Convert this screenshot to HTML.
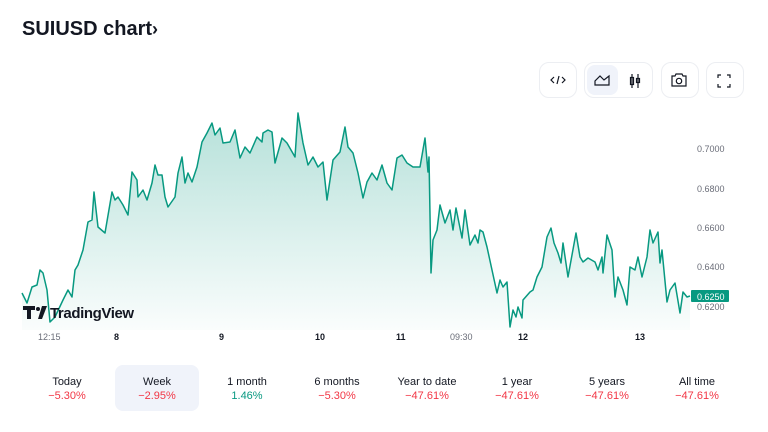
<!DOCTYPE html>
<html><head><meta charset="utf-8"><style>
body{margin:0;width:768px;height:432px;background:#fff;font-family:"Liberation Sans",sans-serif;overflow:hidden;position:relative}
.t{position:absolute;left:22px;top:18px;font-size:20px;font-weight:bold;color:#131722}
.btn{position:absolute;top:62px;height:36px;border:1px solid #eceef2;border-radius:10px;box-sizing:border-box}
.ax{position:absolute;font-size:9px;color:#6a6d78}
.tp{position:absolute;top:332px;font-size:9px;color:#131722}
.per{position:absolute;top:365px;width:84px;height:46px;text-align:center;font-size:11px;color:#131722;border-radius:8px;box-sizing:border-box;padding-top:10px;line-height:14px}
.r{color:#f23645}.g{color:#089981}
</style></head><body>
<div class="t">SUIUSD chart<span style="font-size:18px">›</span></div>
<div class="btn" style="left:539px;width:38px"></div>
<div class="btn" style="left:584px;width:69px"><div style="position:absolute;left:2px;top:2px;width:31px;height:30px;background:#f0f3fa;border-radius:8px"></div></div>
<div class="btn" style="left:661px;width:38px"></div>
<div class="btn" style="left:706px;width:38px"></div>
<svg width="768" height="432" style="position:absolute;left:0;top:0">
<g fill="none" stroke="#131722" stroke-width="1.2">
<path d="M554 77l-3 3 3 3M562 77l3 3-3 3M559 76l-2 8"/>
<path d="M595 85l0-4 5-5 4 4 5-4 0 9z"/>
<path d="M632 74v14M638 74v14"/>
<rect x="630.5" y="77.5" width="3" height="7"/><rect x="636.5" y="78.5" width="3" height="4"/>
<path d="M672 76h3l1-2h6l1 2h3v10h-14z"/><circle cx="679" cy="81" r="2.7"/>
<path d="M718 78v-3h3M727 75h3v3M730 84v3h-3M721 87h-3v-3"/>
</g>
<defs><linearGradient id="gr" x1="0" y1="0" x2="0" y2="1"><stop offset="0" stop-color="#089981" stop-opacity=".3"/><stop offset="1" stop-color="#089981" stop-opacity=".02"/></linearGradient></defs>
<path fill="url(#gr)" stroke="none" d="M22 293L27 303L32 287L37 285L40 270L43 273L47 290L50 322L55 317L63 300L68 290L72 297L75 270L78 265L83 250L88 222L92 220L94 192L98 227L105 233L112 192L115 200L118 197L123 205L128 215L132 172L137 180L138 197L143 190L147 200L152 183L155 165L158 175L162 175L165 197L168 207L175 197L178 173L182 157L185 183L188 173L192 182L197 167L202 142L207 133L212 123L215 135L220 128L223 143L230 142L235 130L240 158L245 147L250 153L257 137L262 142L263 133L268 130L272 132L275 163L282 138L287 143L295 157L298 113L303 143L308 165L313 157L318 167L323 162L327 200L333 160L340 152L345 127L348 147L353 153L358 173L363 198L367 182L372 173L377 180L382 165L387 183L392 190L397 158L402 155L407 163L413 167L420 167L425 138L428 172L429 157L431 273L433 240L437 230L440 205L445 223L450 210L453 230L456 208L462 238L465 210L470 245L475 235L478 243L480 230L483 232L487 247L492 270L497 293L500 280L503 287L507 282L510 327L513 310L516 317L518 307L522 318L523 300L530 292L533 290L537 277L542 267L547 237L551 228L554 243L558 253L561 263L563 243L568 277L576 233L580 257L583 262L588 258L595 262L598 270L602 257L603 273L607 235L612 250L615 297L618 277L623 290L627 305L630 267L635 270L638 257L642 277L647 257L650 230L653 243L658 232L660 263L662 250L667 302L670 290L675 283L680 313L683 292L687 297L690 296L690 330L22 330Z"/>
<polyline fill="none" stroke="#089981" stroke-width="1.5" stroke-linejoin="round" points="22,293 27,303 32,287 37,285 40,270 43,273 47,290 50,322 55,317 63,300 68,290 72,297 75,270 78,265 83,250 88,222 92,220 94,192 98,227 105,233 112,192 115,200 118,197 123,205 128,215 132,172 137,180 138,197 143,190 147,200 152,183 155,165 158,175 162,175 165,197 168,207 175,197 178,173 182,157 185,183 188,173 192,182 197,167 202,142 207,133 212,123 215,135 220,128 223,143 230,142 235,130 240,158 245,147 250,153 257,137 262,142 263,133 268,130 272,132 275,163 282,138 287,143 295,157 298,113 303,143 308,165 313,157 318,167 323,162 327,200 333,160 340,152 345,127 348,147 353,153 358,173 363,198 367,182 372,173 377,180 382,165 387,183 392,190 397,158 402,155 407,163 413,167 420,167 425,138 428,172 429,157 431,273 433,240 437,230 440,205 445,223 450,210 453,230 456,208 462,238 465,210 470,245 475,235 478,243 480,230 483,232 487,247 492,270 497,293 500,280 503,287 507,282 510,327 513,310 516,317 518,307 522,318 523,300 530,292 533,290 537,277 542,267 547,237 551,228 554,243 558,253 561,263 563,243 568,277 576,233 580,257 583,262 588,258 595,262 598,270 602,257 603,273 607,235 612,250 615,297 618,277 623,290 627,305 630,267 635,270 638,257 642,277 647,257 650,230 653,243 658,232 660,263 662,250 667,302 670,290 675,283 680,313 683,292 687,297 690,296"/>
<rect x="691" y="290" width="38" height="12" rx="1" fill="#089981"/>
<text x="697" y="300" font-size="9" fill="#fff" font-family="Liberation Sans">0.6250</text>
<g fill="#131722"><path d="M23 306h12v4h-4v9h-4v-9h-4z"/><circle cx="38" cy="309" r="2"/><path d="M42 306h5l-5 13h-4z"/></g>
<text x="50" y="318" font-size="15" fill="#131722" font-family="Liberation Sans" font-weight="bold" letter-spacing="-0.4">TradingView</text>
</svg>
<div class="ax" style="left:697px;top:144px">0.7000</div>
<div class="ax" style="left:697px;top:184px">0.6800</div>
<div class="ax" style="left:697px;top:223px">0.6600</div>
<div class="ax" style="left:697px;top:262px">0.6400</div>
<div class="ax" style="left:697px;top:302px">0.6200</div>
<div class="tp" style="left:38px;color:#6a6d78">12:15</div>
<div class="tp" style="left:114px;font-weight:bold">8</div>
<div class="tp" style="left:219px;font-weight:bold">9</div>
<div class="tp" style="left:315px;font-weight:bold">10</div>
<div class="tp" style="left:396px;font-weight:bold">11</div>
<div class="tp" style="left:450px;color:#6a6d78">09:30</div>
<div class="tp" style="left:518px;font-weight:bold">12</div>
<div class="tp" style="left:635px;font-weight:bold">13</div>
<div class="per" style="left:25px">Today<br><span class="r">−5.30%</span></div>
<div class="per" style="left:115px;background:#f0f3fa">Week<br><span class="r">−2.95%</span></div>
<div class="per" style="left:205px">1 month<br><span class="g">1.46%</span></div>
<div class="per" style="left:295px">6 months<br><span class="r">−5.30%</span></div>
<div class="per" style="left:385px">Year to date<br><span class="r">−47.61%</span></div>
<div class="per" style="left:475px">1 year<br><span class="r">−47.61%</span></div>
<div class="per" style="left:565px">5 years<br><span class="r">−47.61%</span></div>
<div class="per" style="left:655px">All time<br><span class="r">−47.61%</span></div>
</body></html>
